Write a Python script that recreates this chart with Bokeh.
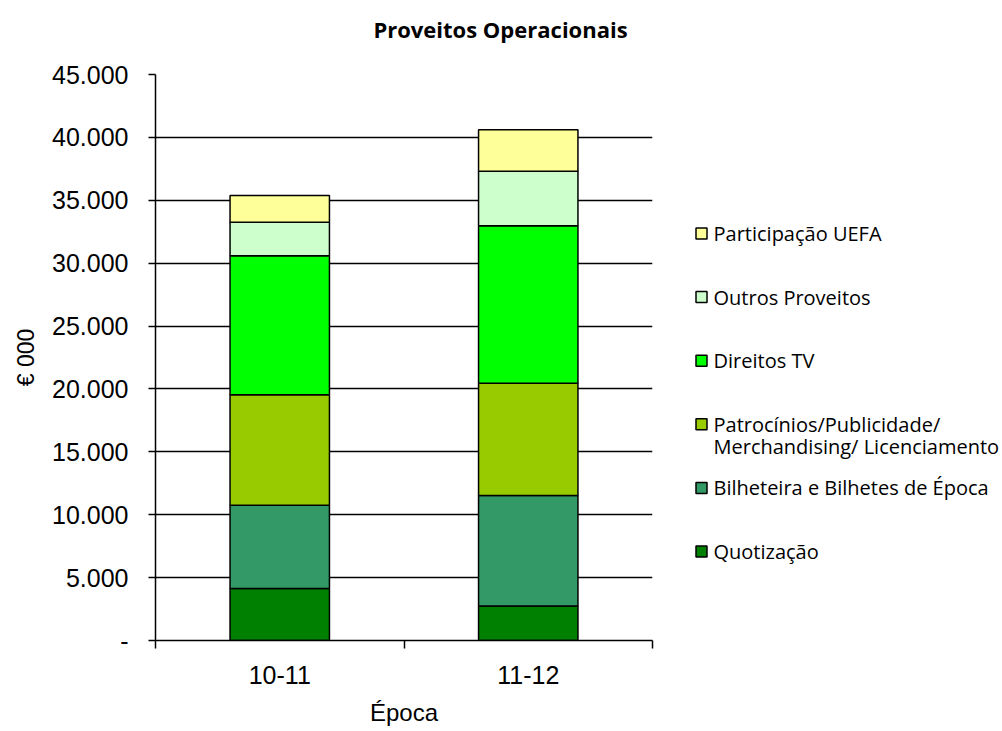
from bokeh.plotting import figure
from bokeh.models import ColumnDataSource, FixedTicker, Range1d
from bokeh.layouts import column, row
from bokeh.core.properties import value
from bokeh.embed import file_html
from bokeh.resources import INLINE

categories = ["10-11", "11-12"]
quotizacao = [4130, 2740]
bilheteira = [6620, 8790]
patrocinios = [8780, 8920]
direitos_tv = [11050, 12530]
outros_proveitos = [2670, 4330]
participacao_uefa = [2120, 3290]

series_keys = ["quot", "bilh", "patr", "tv", "outros", "uefa"]
series_labels = ["Quotização", "Bilheteira e Bilhetes de Época",
                 "Patrocínios/Publicidade/\nMerchandising/ Licenciamento",
                 "Direitos TV", "Outros Proveitos", "Participação UEFA"]
series_colors = ["#008000", "#339966", "#99CC00", "#00FF00", "#CCFFCC", "#FFFF99"]

y_ticks = [0, 5000, 10000, 15000, 20000, 25000, 30000, 35000, 40000, 45000]
y_tick_labels = ["-", "5.000", "10.000", "15.000", "20.000", "25.000",
                 "30.000", "35.000", "40.000", "45.000"]

chart_title = "Proveitos Operacionais"
x_title = "Época"
y_title = "€ 000"

TOTAL_W, TITLE_H, BODY_H = 1000, 60, 671
MAIN_W = 660
FRAME_TOP, FRAME_BOTTOM = 74, 640   # page pixels of the plot frame

# ---------- title strip ----------
t = figure(width=TOTAL_W, height=TITLE_H, output_backend="svg", toolbar_location=None,
           x_range=Range1d(0, TOTAL_W), y_range=Range1d(TITLE_H, 0),
           x_axis_type=None, y_axis_type=None, min_border=0,
           outline_line_color=None)
t.xgrid.visible = False
t.ygrid.visible = False
t.text(x=[500], y=[28], text=[chart_title], text_font=value("Open Sans"),
       text_font_size="22px", text_font_style="bold", text_color="black",
       text_align="center", text_baseline="middle")

# ---------- main chart ----------
source = ColumnDataSource(dict(
    x=[i + 0.5 for i in range(len(categories))],
    quot=quotizacao, bilh=bilheteira, patr=patrocinios,
    tv=direitos_tv, outros=outros_proveitos, uefa=participacao_uefa,
))

p = figure(width=MAIN_W, height=BODY_H, output_backend="svg", toolbar_location=None,
           x_range=Range1d(0, len(categories)), y_range=Range1d(0, 45000),
           min_border_left=155, min_border_right=8, min_border_top=FRAME_TOP - TITLE_H,
           min_border_bottom=TITLE_H + BODY_H - FRAME_BOTTOM, outline_line_color=None)

renderers = p.vbar_stack(series_keys, x="x", width=0.4, source=source,
                         fill_color=series_colors, line_color="black", line_width=1.5)

xa = p.xaxis[0]
xa.ticker = FixedTicker(ticks=[i + 0.5 for i in range(len(categories))],
                        minor_ticks=list(range(len(categories) + 1)))
xa.major_label_overrides = {i + 0.5: c for i, c in enumerate(categories)}
xa.major_tick_line_color = None
xa.minor_tick_in = 0
xa.minor_tick_out = 8
xa.minor_tick_line_color = "black"
xa.minor_tick_line_width = 1.5
xa.axis_line_color = "black"
xa.axis_line_width = 1.5
xa.major_label_text_font = "Liberation Sans"
xa.major_label_text_font_size = "25px"
xa.major_label_text_color = "black"
xa.major_label_standoff = 17
xa.axis_label = x_title
xa.axis_label_text_font = "Liberation Sans"
xa.axis_label_text_font_size = "24px"
xa.axis_label_text_font_style = "normal"
xa.axis_label_text_color = "black"
xa.axis_label_standoff = 12

ya = p.yaxis[0]
ya.ticker = FixedTicker(ticks=y_ticks, minor_ticks=[])
ya.major_label_overrides = {tk: lb for tk, lb in zip(y_ticks, y_tick_labels)}
ya.major_tick_in = 0
ya.major_tick_out = 7
ya.major_tick_line_color = "black"
ya.major_tick_line_width = 1.5
ya.axis_line_color = "black"
ya.axis_line_width = 1.5
ya.major_label_text_font = "Liberation Sans"
ya.major_label_text_font_size = "25px"
ya.major_label_text_color = "black"
ya.major_label_standoff = 20
ya.axis_label = y_title
ya.axis_label_text_font = "Liberation Sans"
ya.axis_label_text_font_size = "23px"
ya.axis_label_text_font_style = "normal"
ya.axis_label_text_color = "black"
ya.axis_label_standoff = 10

p.xgrid.grid_line_color = None
p.ygrid.ticker = FixedTicker(ticks=y_ticks)
p.ygrid.grid_line_color = "black"
p.ygrid.grid_line_width = 1.5

# ---------- legend strip (its frame is aligned with the main frame) ----------
q = figure(width=TOTAL_W - MAIN_W, height=BODY_H, output_backend="svg",
           toolbar_location=None,
           x_range=Range1d(MAIN_W, TOTAL_W), y_range=Range1d(FRAME_BOTTOM, FRAME_TOP),
           x_axis_type=None, y_axis_type=None, min_border=0,
           outline_line_color=None)
q.xgrid.visible = False
q.ygrid.visible = False

order = list(reversed(range(len(series_keys))))
row_y = [233 + 63.6 * k for k in range(len(order))]
q.scatter(x=[701] * len(order), y=row_y, marker="square", size=11,
          fill_color=[series_colors[i] for i in order], line_color="black",
          line_width=1.5)
tx, ty, tt = [], [], []
for k, i in enumerate(order):
    for j, line in enumerate(series_labels[i].split("\n")):
        tx.append(713)
        ty.append(row_y[k] + 22 * j)
        tt.append(line)
q.text(x=tx, y=ty, text=tt, text_font=value("Open Sans"), text_font_size="20px",
       text_color="black", text_align="left", text_baseline="middle")

layout = column(t, row(p, q))
open("out.html", "w").write(file_html(layout, INLINE))
